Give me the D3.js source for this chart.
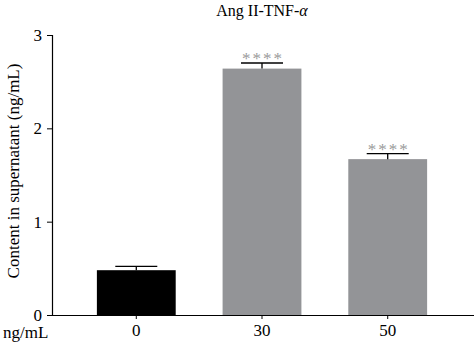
<!DOCTYPE html>
<html>
<head>
<meta charset="utf-8">
<script src="https://cdn.jsdelivr.net/npm/d3@7"></script>
<style>
  body { margin: 0; background: #fff; }
  text { font-family: "Liberation Serif", "DejaVu Serif", serif; }
</style>
</head>
<body>
<svg width="474" height="345"></svg>
<script>
const categories = ["0", "30", "50"];
const means = [0.48, 2.64, 1.67];
const errors = [0.04, 0.06, 0.06];
const stars = ["", "****", "****"];
const yTicks = [0, 1, 2, 3];

const width = 474, height = 345;
const mLeft = 52, mTop = 35, mBottom = 315;

const svg = d3.select("svg");

const x = d3.scaleBand()
  .domain(categories)
  .range([73, 451])
  .paddingInner(0.373)
  .paddingOuter(0.19);

const y = d3.scaleLinear().domain([0, 3]).range([mBottom, mTop]);

// bars
svg.selectAll("rect.bar")
  .data(categories)
  .enter()
  .append("rect")
  .attr("class", "bar")
  .attr("x", d => x(d))
  .attr("width", x.bandwidth())
  .attr("y", (d, i) => y(means[i]))
  .attr("height", (d, i) => mBottom - y(means[i]))
  .attr("fill", (d, i) => i === 0 ? "#000" : "#939497");

// error bars
const cx = d => x(d) + x.bandwidth() / 2;
svg.selectAll("line.err")
  .data(categories)
  .enter()
  .append("line")
  .attr("x1", cx).attr("x2", cx)
  .attr("y1", (d, i) => y(means[i]))
  .attr("y2", (d, i) => y(means[i] + errors[i]))
  .attr("stroke", "#000").attr("stroke-width", 1.3);

svg.selectAll("line.cap")
  .data(categories)
  .enter()
  .append("line")
  .attr("x1", d => cx(d) - 21).attr("x2", d => cx(d) + 21)
  .attr("y1", (d, i) => y(means[i] + errors[i]))
  .attr("y2", (d, i) => y(means[i] + errors[i]))
  .attr("stroke", "#000").attr("stroke-width", 1.3);

svg.selectAll("text.star")
  .data(categories)
  .enter()
  .append("text")
  .attr("x", d => cx(d) + 1)
  .attr("y", (d, i) => y(means[i] + errors[i]) + 1)
  .attr("text-anchor", "middle")
  .attr("font-size", 17)
  .attr("letter-spacing", 2)
  .attr("fill", "#9a9a9a")
  .text((d, i) => stars[i]);

// axes
const yAxis = d3.axisLeft(y).tickValues(yTicks).tickSize(5).tickPadding(5).tickFormat(d3.format("d"));
const gy = svg.append("g")
  .attr("transform", "translate(" + mLeft + ",0)")
  .call(yAxis);
gy.select(".domain").attr("stroke", "#000").attr("stroke-width", 1.2);
gy.selectAll("text").attr("font-size", 17).attr("font-family", "Liberation Serif").attr("fill", "#000");

const xAxis = d3.axisBottom(x).tickSize(4).tickPadding(5);
const gx = svg.append("g")
  .attr("transform", "translate(0," + mBottom + ")")
  .call(xAxis);
gx.select(".domain").attr("d", "M" + mLeft + ",0.5H" + width).attr("stroke", "#000").attr("stroke-width", 1.2);
gx.selectAll("text").attr("font-size", 17).attr("font-family", "Liberation Serif").attr("fill", "#000");

svg.append("text")
  .attr("x", 3).attr("y", 338)
  .attr("font-size", 17)
  .text("ng/mL");

// title
const title = svg.append("text")
  .attr("x", 262).attr("y", 16)
  .attr("text-anchor", "middle")
  .attr("font-size", 16);
title.append("tspan").text("Ang II-TNF-");
title.append("tspan").attr("font-style", "italic").text("α");

// y label
svg.append("text")
  .attr("transform", "translate(19,171) rotate(-90)")
  .attr("text-anchor", "middle")
  .attr("font-size", 17)
  .text("Content in supernatant (ng/mL)");
</script>
</body>
</html>
